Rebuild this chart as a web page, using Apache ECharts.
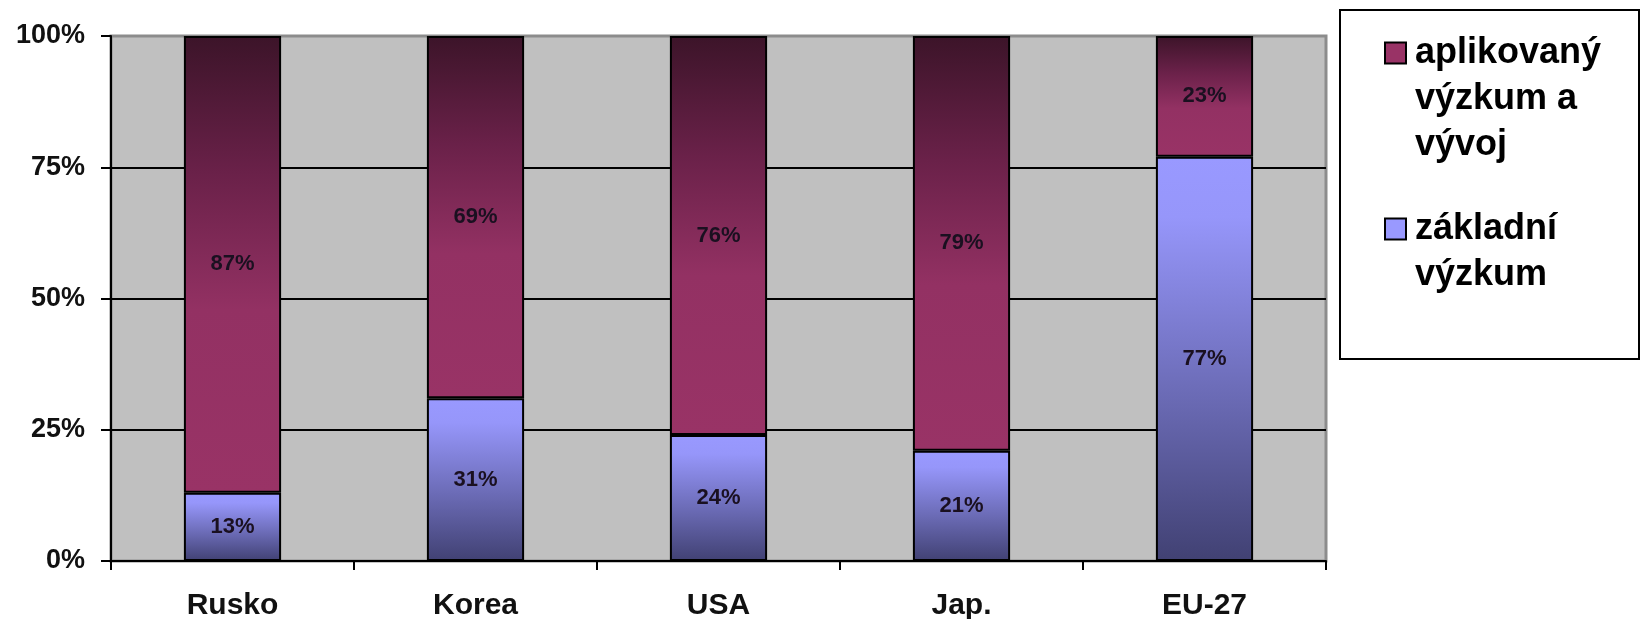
<!DOCTYPE html>
<html>
<head>
<meta charset="utf-8">
<script src="https://cdn.jsdelivr.net/npm/echarts@6/dist/echarts.min.js"></script>
<style>
html,body{margin:0;padding:0;background:#fff;}
#chart{width:1642px;height:619px;}
</style>
</head>
<body>
<div id="chart"></div>
<script>
var categories = ['Rusko', 'Korea', 'USA', 'Jap.', 'EU-27'];
var basicResearch = [13, 31, 24, 21, 77];
var appliedResearch = [87, 69, 76, 79, 23];
var seriesNames = ['aplikovaný výzkum a vývoj', 'základní výzkum'];
var legendLines = {
  'aplikovaný výzkum a vývoj': '\n\naplikovaný\nvýzkum a\nvývoj',
  'základní výzkum': '\nzákladní\nvýzkum'
};
var yTicks = [0, 25, 50, 75, 100];

var chart = echarts.init(document.getElementById('chart'), null, {renderer: 'canvas'});

var FONT = 'Liberation Sans, Arial, sans-serif';

var purpleGrad = new echarts.graphic.LinearGradient(0, 0, 0, 1, [
  {offset: 0, color: '#3c1429'},
  {offset: 0.3, color: '#6a2149'},
  {offset: 0.6, color: '#933163'},
  {offset: 1, color: '#993366'}
]);
var blueGrad = new echarts.graphic.LinearGradient(0, 0, 0, 1, [
  {offset: 0, color: '#9999ff'},
  {offset: 0.15, color: '#9696fa'},
  {offset: 0.6, color: '#6a6ab4'},
  {offset: 1, color: '#414173'}
]);

var labelStyle = {
  show: true,
  position: 'inside',
  formatter: '{c}%',
  color: '#1a1020',
  fontFamily: FONT,
  fontWeight: 'bold',
  fontSize: 22
};

var option = {
  animation: false,
  backgroundColor: '#ffffff',
  grid: {
    left: 111, right: 316, top: 36, bottom: 58,
    show: true,
    backgroundColor: '#c0c0c0',
    borderColor: '#8c8c8c',
    borderWidth: 3,
    containLabel: false,
    outerBoundsMode: 'none'
  },
  graphic: [{
    type: 'rect',
    shape: {x: 1340, y: 10, width: 299, height: 349},
    style: {fill: '#ffffff', stroke: '#000000', lineWidth: 2},
    z: 0
  }],
  legend: {
    orient: 'vertical',
    left: 1384,
    top: -62,
    padding: 0,
    itemGap: -8,
    itemWidth: 21,
    itemHeight: 21,
    selectedMode: false,
    formatter: function (name) { return legendLines[name]; },
    textStyle: {
      fontFamily: FONT,
      fontWeight: 'bold',
      fontSize: 36,
      lineHeight: 46,
      color: '#000000',
      padding: [0, 0, 0, 4]
    },
    data: [
      {name: seriesNames[0], icon: 'rect',
        itemStyle: {color: '#993366', borderColor: '#000', borderWidth: 2}},
      {name: seriesNames[1], icon: 'rect',
        itemStyle: {color: '#9999ff', borderColor: '#000', borderWidth: 2}}
    ]
  },
  xAxis: {
    type: 'category',
    data: categories,
    boundaryGap: true,
    axisLine: {show: true, lineStyle: {color: '#000', width: 2}},
    axisTick: {show: true, alignWithLabel: false, length: 9, inside: false, lineStyle: {color: '#000', width: 2}},
    axisLabel: {
      margin: 30,
      fontFamily: FONT,
      fontWeight: 'bold',
      fontSize: 30,
      color: '#111'
    },
    splitLine: {show: false}
  },
  yAxis: {
    type: 'value',
    min: 0, max: 100, interval: 25,
    axisLine: {show: true, lineStyle: {color: '#000', width: 2}},
    axisTick: {show: true, length: 10, lineStyle: {color: '#000', width: 2}},
    axisLabel: {
      margin: 26,
      formatter: '{value}%',
      fontFamily: FONT,
      fontWeight: 'bold',
      fontSize: 27,
      color: '#111'
    },
    splitLine: {show: true, showMaxLine: false, lineStyle: {color: '#000', width: 2}}
  },
  series: [
    {
      name: seriesNames[1],
      type: 'bar',
      stack: 'total',
      barWidth: '40%',
      data: basicResearch,
      itemStyle: {color: blueGrad, borderColor: '#000', borderWidth: 2},
      label: labelStyle
    },
    {
      name: seriesNames[0],
      type: 'bar',
      stack: 'total',
      barWidth: '40%',
      data: appliedResearch,
      itemStyle: {color: purpleGrad, borderColor: '#000', borderWidth: 2},
      label: labelStyle
    }
  ]
};
chart.setOption(option);
</script>
</body>
</html>
